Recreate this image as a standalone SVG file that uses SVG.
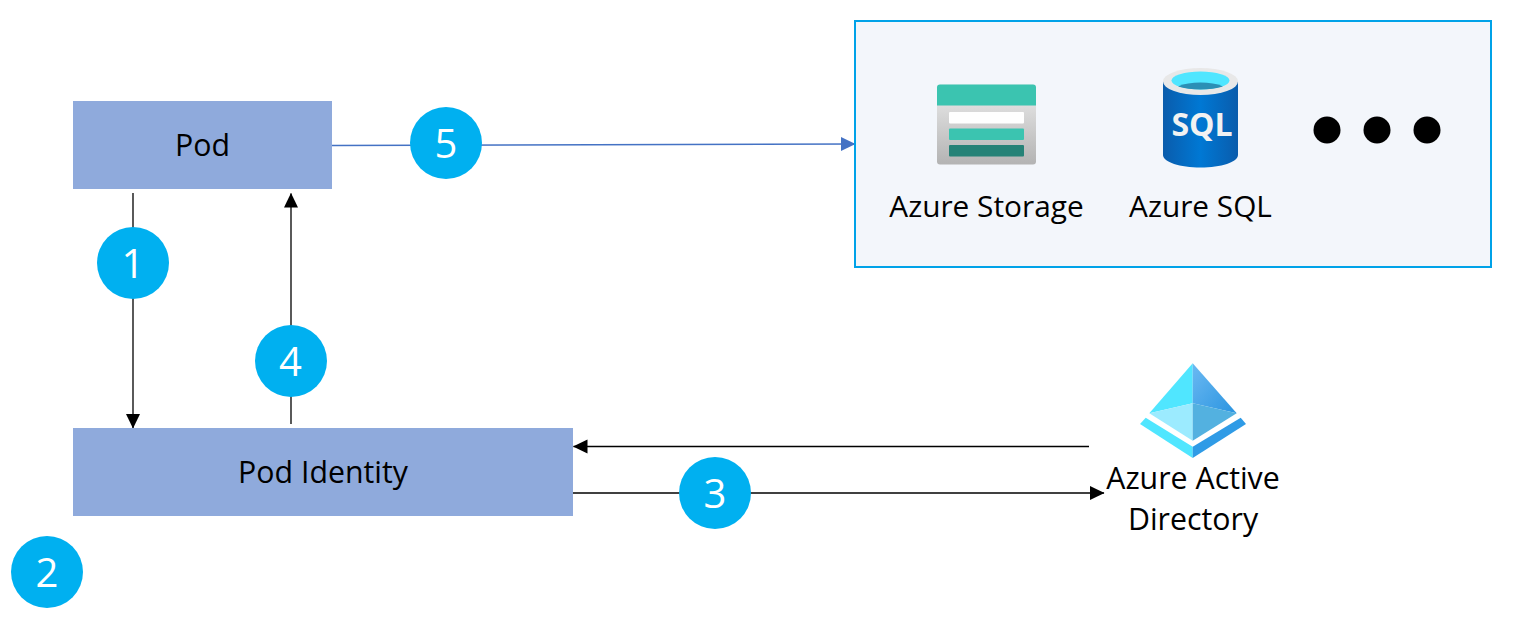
<svg xmlns="http://www.w3.org/2000/svg" width="1533" height="631" viewBox="0 0 1533 631">
<style>
text{font-family:"Open Sans","Noto Sans","Liberation Sans",sans-serif;fill:#000;text-anchor:middle;font-size:30.300px}
.box{fill:#8faadc}
.svc{font-size:29.800px}
.badge circle{fill:#00b0f0}
.badge text{fill:#fff;font-size:40px}
.k{stroke:#000;stroke-width:1.3;fill:none}
.b{stroke:#4472c4;stroke-width:1.3;fill:none}
.dot{fill:#000}
</style>
<defs>
<marker id="ak" markerUnits="userSpaceOnUse" markerWidth="15" markerHeight="15" refX="14" refY="7" orient="auto"><path d="M0 0L14.500 7L0 14Z" fill="#000"/></marker>
<marker id="ab" markerUnits="userSpaceOnUse" markerWidth="15" markerHeight="15" refX="14" refY="7" orient="auto"><path d="M0 0L14.500 7L0 14Z" fill="#4472c4"/></marker>
<linearGradient id="gs" x1="0" y1="0" x2="0" y2="1"><stop offset="0" stop-color="#ececec"/><stop offset="1" stop-color="#b3b3b3"/></linearGradient>
<linearGradient id="gq" x1="0" y1="0" x2="1" y2="0"><stop offset="0" stop-color="#0a5cac"/><stop offset=".5" stop-color="#0078d4"/><stop offset="1" stop-color="#0a5cac"/></linearGradient>
<linearGradient id="ga" x1="0" y1="0" x2="1" y2="1"><stop offset="0" stop-color="#6bb9f2"/><stop offset="1" stop-color="#2a94e0"/></linearGradient>
</defs>
<g id="connectors">
<path class="k" d="M133 193V428" marker-end="url(#ak)"/>
<path class="k" d="M291 424V193.500" marker-end="url(#ak)"/>
<path class="b" d="M332 145.500L855 144" marker-end="url(#ab)"/>
<path class="k" d="M1089 446.500H573.500" marker-end="url(#ak)"/>
<path class="k" d="M573 493H1104" marker-end="url(#ak)"/>
</g>
<g id="pod"><rect class="box" x="73" y="101" width="259" height="88"/><text x="202.500" y="156">Pod</text></g>
<g id="pod-identity"><rect class="box" x="73" y="428" width="500" height="88"/><text x="323" y="483">Pod Identity</text></g>
<g id="services">
<rect x="855" y="21" width="636" height="246" fill="#f3f6fb" stroke="#00a2e8" stroke-width="2"/>
<g id="azure-storage">
<rect x="937" y="84.500" width="99" height="80" rx="3" fill="url(#gs)"/>
<path d="M937 105.500V87.500a3 3 0 0 1 3-3H1033a3 3 0 0 1 3 3V105.500Z" fill="#3bc4b0"/>
<rect x="949" y="112" width="75" height="11.500" rx="1" fill="#fff"/>
<rect x="949" y="128.500" width="75" height="11.500" rx="1" fill="#3bc4b0"/>
<rect x="949" y="145" width="75" height="11.500" rx="1" fill="#258277"/>
<text class="svc" x="986.500" y="216.500">Azure Storage</text>
</g>
<g id="azure-sql">
<path d="M1163 81.500V155c0 7 17 12.500 37.500 12.500S1238 162 1238 155V81.500Z" fill="url(#gq)"/>
<ellipse cx="1200.500" cy="81.500" rx="37.500" ry="13.500" fill="#e8e8e8"/>
<ellipse cx="1200.500" cy="80.500" rx="29" ry="9" fill="#50e6ff"/>
<path d="M1178 86.500c6-3 14-4 22.500-4s16.500 1 22.500 4c-6 2-14 3-22.500 3s-16.500-1-22.500-3Z" fill="#2b8fb5"/>
<text x="1202" y="136" style="font-size:32px;font-weight:700;fill:#f2f2f2">SQL</text>
<text class="svc" x="1200.500" y="216.500">Azure SQL</text>
</g>
<circle class="dot" cx="1327" cy="130" r="13.500"/>
<circle class="dot" cx="1377" cy="130" r="13.500"/>
<circle class="dot" cx="1427" cy="130" r="13.500"/>
</g>
<g id="azure-active-directory">
<path d="M1192.700 363.300L1149.300 413.300L1192.700 403.300Z" fill="#50e6ff"/>
<path d="M1192.700 363.300L1236.700 413.300L1192.700 403.300Z" fill="url(#ga)"/>
<path d="M1149.300 413.300L1192.700 403.300V440.700Z" fill="#9cebff"/>
<path d="M1236.700 413.300L1192.700 403.300V440.700Z" fill="#53b1e0"/>
<path d="M1140 424L1145.700 417.700L1192.700 446.700V458Z" fill="#50e6ff"/>
<path d="M1246 424L1240.700 417.700L1192.700 446.700V458Z" fill="#2f9be6"/>
<text x="1193" y="488.500">Azure Active</text>
<text x="1193" y="530">Directory</text>
</g>
<g id="badge-1" class="badge"><circle cx="133" cy="263" r="36"/><text x="133" y="277.500">1</text></g>
<g id="badge-2" class="badge"><circle cx="47" cy="572" r="36"/><text x="47" y="586.500">2</text></g>
<g id="badge-3" class="badge"><circle cx="715" cy="493" r="36"/><text x="715" y="507.500">3</text></g>
<g id="badge-4" class="badge"><circle cx="291" cy="361" r="36"/><text x="290.500" y="375.500">4</text></g>
<g id="badge-5" class="badge"><circle cx="446" cy="143" r="36"/><text x="446" y="157.500">5</text></g>
</svg>
